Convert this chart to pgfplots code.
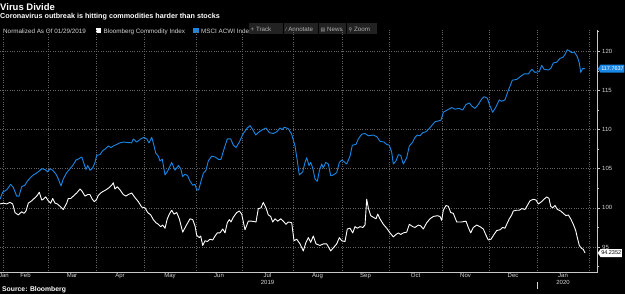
\documentclass[border=0pt]{standalone}
\usepackage{fontspec}
\setmainfont{Liberation Sans}
\newfontfamily\symfont{DejaVu Sans}
\usepackage{pgfplots}
\pgfplotsset{compat=1.18}
\usetikzlibrary{shapes.symbols}
\definecolor{bbblue}{RGB}{25,135,230}
\definecolor{gridc}{RGB}{100,100,100}
\definecolor{axc}{RGB}{200,200,200}
\definecolor{tickc}{RGB}{215,215,215}
\definecolor{btn}{RGB}{34,34,34}
\definecolor{btntext}{RGB}{175,175,175}

\begin{document}
\begin{tikzpicture}[x=1bp,y=1bp]
\fill[black] (0,0) rectangle (625,294);
\useasboundingbox (0,0) rectangle (625,294);
% titles
\node[anchor=base west, inner sep=0, text=white, font=\fontsize{9.5bp}{11bp}\selectfont\bfseries] at (0,284) {Virus Divide};
\node[anchor=base west, inner sep=0, text=white, font=\fontsize{7.2bp}{8bp}\selectfont\bfseries] at (0,276) {Coronavirus outbreak is hitting commodities harder than stocks};
% legend row
\begin{scope}[font=\fontsize{6.3bp}{7bp}\selectfont]
\node[anchor=base west, inner sep=0, text=tickc] at (3,260.5) {Normalized As Of 01/29/2019};
\fill[white] (96,261) rectangle (101,266);
\node[anchor=base west, inner sep=0, text=tickc] at (103.5,260.5) {Bloomberg Commodity Index};
\fill[bbblue] (193,261) rectangle (198.5,266);
\node[anchor=base west, inner sep=0, text=tickc] at (201,260.5) {MSCI ACWI Index};
\end{scope}
% toolbar
\begin{scope}[font=\fontsize{6.2bp}{7bp}\selectfont]
\fill[btn] (249,260.5) rectangle (283,271);
\fill[btn] (284,260.5) rectangle (318,271);
\fill[btn] (319,260.5) rectangle (346,271);
\fill[btn] (347,260.5) rectangle (377,271);
\node[anchor=base west, inner sep=0, text=btntext] at (250.5,263) {+\ Track};
\node[anchor=base west, inner sep=0, text=btntext] at (285.5,263) {{\symfont\fontsize{5bp}{6bp}\selectfont ⁄}\ Annotate};
\node[anchor=base west, inner sep=0, text=btntext] at (320.5,263) {{\symfont\fontsize{5bp}{6bp}\selectfont ▤}\ News};
\node[anchor=base west, inner sep=0, text=btntext] at (348.5,263) {{\symfont\fontsize{5bp}{6bp}\selectfont ⚲}\ Zoom};
\end{scope}
% source
\node[anchor=base west, inner sep=0, text=white, font=\fontsize{6.8bp}{8bp}\selectfont\bfseries] at (2,2.5) {Source: Bloomberg};

\begin{axis}[
  at={(0,27)}, anchor=south west,
  scale only axis, width=597bp, height=243bp,
  xmin=0, xmax=597, ymin=91.70, ymax=122.73,
  clip=false,
  axis x line*=bottom, axis y line*=right,
  axis line style={axc, line width=0.8bp},
  x axis line style={-}, y axis line style={-},
  xtick={4,25.5,72,120,170,219,267.5,317.5,365.5,415.5,465.5,513,563},
  xticklabels={Jan,Feb,Mar,Apr,May,Jun,{Jul\\2019},Aug,Sep,Oct,Nov,Dec,{Jan\\2020}},
  minor xtick={3,48,96,144,196,242,293,342,389,442,489,537,589},
  xminorgrids, xmajorgrids=false,
  ytick={95,100,105,110,115,120},
  minor ytick={92.5,97.5,102.5,107.5,112.5,117.5,122.5},
  ymajorgrids,
  grid style={gridc, line width=0.6bp, dash pattern=on 0.8bp off 1.6bp},
  minor grid style={gridc, line width=0.6bp, dash pattern=on 0.8bp off 1.6bp},
  tick align=outside,
  x tick style={draw=none},
  y tick style={axc, line width=0.6bp},
  major tick length=3bp, minor tick length=2bp,
  yticklabel pos=right,
  /pgf/number format/assume math mode=true,
  yticklabel style={font=\fontsize{6bp}{7bp}\selectfont, text=tickc, inner sep=0pt, xshift=2bp},
  xticklabel style={font=\fontsize{6bp}{7bp}\selectfont, text=tickc, align=center, inner sep=0pt, yshift=2.5bp},
]
% Bloomberg Commodity Index
\addplot[white, line width=0.9bp, line join=round] coordinates {
(0,100.5) (3.3,100.6) (6.7,100.5) (10,100.7) (12.7,100.5) (15,99.4) (18.3,99.1) (21.7,99.5) (24,99.3) (26,99.6)
(28.3,100.6) (31.7,100.9) (35,101.3) (37.3,101.6) (39.3,102.0) (41.7,101.0) (43.3,101.1) (45.7,101.4) (48.3,100.9) (50.7,100.6)
(52.7,101.2) (55,100.6) (57.3,100.5) (60,100.2) (63.3,99.8) (66.7,100.6) (68.3,101.2) (70.7,101.2) (73.3,101.5) (76.7,101.9)
(80,102.4) (81.7,102.2) (85,101.5) (87.7,101.7) (90,101.7) (92.3,101.1) (94.3,100.8) (96.7,101.1) (98.3,101.6) (101.7,102.0)
(106,102.3) (109.3,102.6) (111.7,102.9) (113.3,103.2) (115,102.4) (117.3,102.7) (120,102.3) (123.3,101.7) (126,101.5) (128.3,101.7)
(131.7,101.9) (135,101.3) (138.3,100.8) (141.7,100.1) (145,100.0) (147.7,99.4) (150.7,99.1) (153.3,98.5) (156,98.1) (158.3,97.9)
(160.7,97.6) (162.7,97.8) (165,97.4) (167.3,98.6) (169.3,99.2) (171.7,99.7) (174,99.2) (176.7,99.4) (179.3,98.6) (182.7,96.9)
(186,97.7) (190,98.6) (192.7,98.5) (195,97.7) (196.7,96.5) (199.3,96.2) (200.7,96.4) (202.7,95.2) (205,95.8) (207.3,95.7)
(210,96.0) (212.7,95.9) (215,96.4) (217.3,96.8) (220,96.8) (222.7,97.3) (225,96.8) (227.3,98.1) (229.3,98.5) (231,98.2)
(233.3,98.8) (236.7,99.4) (239.3,99.6) (241.7,99.2) (245,97.2) (248.3,98.3) (251.7,98.3) (256,98.2) (258.3,99.9) (261,100.0)
(263.3,100.7) (266,100.0) (268.3,99.1) (270.7,98.9) (272.7,98.2) (275,98.6) (277.7,98.3) (280.7,98.6) (283.3,98.3) (286,97.9)
(288.3,98.2) (291.7,98.1) (294,95.8) (296.7,96.0) (300,95.4) (303.3,94.5) (306,95.6) (308.3,96.2) (310.7,95.6) (313.3,96.4)
(316,95.4) (320,95.2) (323.3,95.4) (326.7,95.4) (330.7,94.5) (333.3,94.9) (336.7,95.4) (339.3,96.2) (341.7,95.8) (345,95.7)
(347.3,97.3) (350,97.4) (352.7,96.8) (355,97.6) (357.3,97.4) (360,97.6) (362.7,97.5) (365,97.8) (366.7,101.1) (368.3,100.0)
(370.7,99.0) (373.3,98.8) (376,98.6) (377.7,99.2) (380,98.6) (383.3,97.9) (386.7,97.4) (390,96.8) (393.3,96.3) (396,96.6)
(398.3,96.8) (400.7,96.6) (403.3,96.8) (406.7,96.9) (409.3,97.9) (412.7,97.6) (415,97.5) (418.3,97.8) (420.7,97.7) (423.3,97.3)
(426.7,98.1) (430,98.6) (433.3,98.9) (437.3,99.0) (440,98.9) (441.7,98.4) (443.3,99.7) (446,100.3) (448.3,100.2) (450.7,99.4)
(453.3,99.3) (456.7,98.2) (461.7,98.2) (466,98.3) (468.3,97.5) (470.7,96.8) (473.3,97.5) (476.7,97.8) (480,97.6) (483.3,97.3)
(486,96.5) (488.3,95.9) (491,96.0) (494,96.6) (496.7,97.1) (500,97.2) (502.7,97.5) (505,97.4) (506.7,97.9) (509.3,98.6)
(511.7,99.1) (513.3,99.6) (516.7,99.7) (519.3,99.7) (521.7,99.9) (525,99.8) (527.3,100.3) (530,100.9) (533.3,101.1) (536,101.0)
(538.3,100.5) (541.7,100.8) (544,101.1) (546.7,101.4) (549,101.2) (550.7,100.2) (552.7,100.0) (555,100.3) (557.3,99.8) (560.7,99.6)
(563.3,99.3) (566,99.0) (568.3,99.1) (570.7,98.6) (573.3,97.9) (575.7,97.1) (577.3,96.2) (579.3,95.2) (581.7,94.8) (583.3,94.7)
(585,94.2352)
};
% MSCI ACWI Index
\addplot[bbblue, line width=0.9bp, line join=round] coordinates {
(0,101.1) (2.7,102.0) (6.7,102.3) (10.7,103.0) (13.3,102.6) (16.7,101.5) (19,101.5) (21.7,102.7) (25,102.9) (27.3,103.4)
(30.7,103.9) (33.3,104.2) (36,104.4) (39.3,104.7) (41.7,105.0) (45,104.9) (47.7,104.6) (50,105.0) (52.7,104.8) (56,104.3)
(58.3,103.7) (61,102.8) (63.3,103.7) (66.7,104.5) (70,105.0) (72.7,105.4) (76,106.1) (79.3,106.3) (81.7,106.5) (83.3,105.9)
(86,104.9) (87.7,105.4) (90,104.8) (92.7,105.1) (95,105.8) (96.7,106.7) (100,106.8) (102.7,107.3) (106,107.6) (108.3,107.9)
(111,107.7) (113.3,107.9) (116.7,108.1) (120,108.3) (123.3,108.4) (131.7,108.3) (133.3,108.8) (136.7,108.4) (140.7,108.8) (144,109.0)
(146.7,108.8) (149,108.3) (151.7,109.0) (153.3,108.3) (155.7,107.0) (158.3,106.6) (160,106.0) (162.3,106.2) (165,104.2) (167.7,104.7)
(171.7,105.8) (175,104.8) (178.3,105.4) (180.7,105.0) (182.7,104.0) (185,104.3) (187.7,104.1) (190,103.4) (192.7,102.9) (195,103.0)
(196.7,102.3) (198.7,102.3) (201,103.4) (203.3,104.4) (206,104.8) (208.3,106.0) (211.7,106.6) (215,106.5) (218.3,106.2) (221,106.2)
(224,107.5) (227.3,108.8) (230.7,108.8) (233.3,108.0) (236,107.7) (239.3,108.4) (243.3,109.5) (247.3,110.2) (250,110.5) (252.7,110.0)
(255.7,109.3) (259,109.7) (262.7,110.0) (266,110.2) (269.3,109.6) (273.3,109.5) (276.7,109.7) (280,110.2) (282.3,110.0) (284.3,110.3)
(288.3,110.1) (291.7,109.4) (295,107.9) (297.3,106.0) (299.3,104.2) (302.7,104.6) (305,105.8) (306.7,106.4) (309,105.4) (310.7,105.8)
(312.7,105.1) (315,103.7) (317.3,103.4) (319.3,104.7) (321.7,105.6) (323.3,105.1) (325.7,105.8) (328.3,105.6) (330.7,104.1) (333.3,104.2)
(336.7,104.5) (339.3,105.8) (341.7,106.1) (344,105.9) (346.7,105.6) (350,106.6) (352.3,108.0) (356,108.1) (358.3,108.8) (361.7,109.4)
(365,109.5) (368.3,109.2) (373.3,109.3) (376.7,109.1) (380,108.5) (384,108.4) (386.7,108.1) (389.3,108.0) (391.7,107.1) (393.3,105.6)
(396,106.0) (398.3,106.8) (400.7,106.7) (403.3,105.6) (406.7,106.4) (409.3,107.9) (412.7,108.4) (415,109.0) (417.3,109.3) (420,109.2)
(422.7,109.6) (425.7,109.7) (428.3,110.0) (431.7,110.5) (435,111.0) (438.3,111.1) (441,111.2) (443.3,112.2) (447.3,112.5) (451.7,112.8)
(455,112.6) (459,112.7) (462.7,112.5) (466,113.2) (469.3,113.4) (471.7,113.0) (475,112.7) (478.3,113.2) (481.7,113.9) (484,114.2)
(487.3,114.0) (490,113.0) (492.7,112.2) (496,112.9) (499.3,113.8) (501.7,113.6) (505,113.8) (508.3,115.0) (512.3,116.3) (516.7,116.4)
(520.7,116.8) (524,117.1) (528.3,117.1) (531.7,117.7) (535,117.3) (539.3,117.4) (541.7,118.2) (544,117.7) (548.3,117.6) (550.7,117.8)
(553.3,118.5) (556.7,118.6) (560,119.1) (562.7,119.2) (565,119.6) (567.3,120.2) (570,120.0) (571.7,119.8) (574.3,119.9) (577.3,119.3)
(579.3,118.5) (580.7,117.3) (582.7,117.8) (585,117.7637)
};
% year separator
\draw[tickc, line width=0.6bp] ([yshift=-9bp]axis cs:537,91.70) -- ([yshift=-16bp]axis cs:537,91.70);
% last value tags
\node[signal, signal to=west, signal pointer angle=110, fill=bbblue, text=white, anchor=west, inner sep=0.7bp, minimum height=8bp,
  font=\fontsize{5.5bp}{6bp}\selectfont] at ([xshift=0.5bp]axis cs:597,117.7637) {117.7637};
\node[signal, signal to=west, signal pointer angle=110, fill=white, text=black, anchor=west, inner sep=0.7bp, minimum height=8bp,
  font=\fontsize{5.5bp}{6bp}\selectfont] at ([xshift=0.5bp]axis cs:597,94.2352) {94.2352};
\end{axis}
\end{tikzpicture}
\end{document}
